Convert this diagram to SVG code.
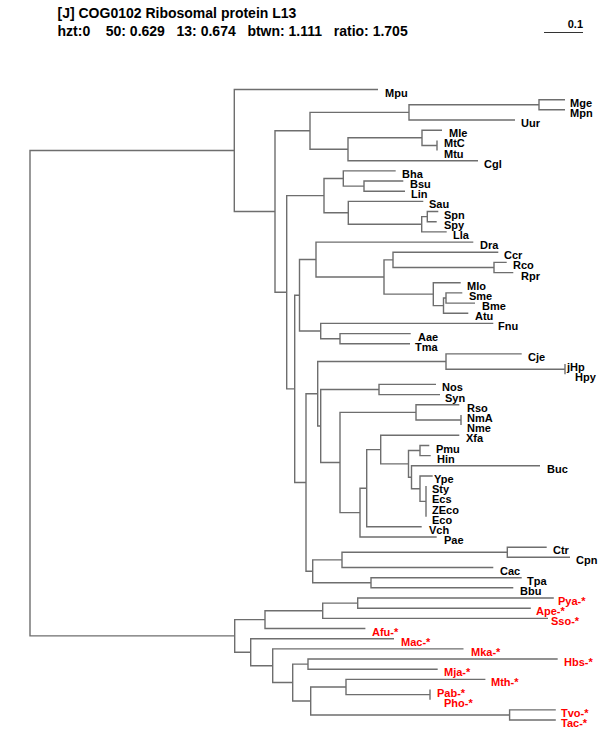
<svg xmlns="http://www.w3.org/2000/svg" width="600" height="750" viewBox="0 0 600 750">
<style>
.br{fill:none;stroke:#6e6e6e;stroke-width:1.4}
.t{font-family:"Liberation Sans",Arial,sans-serif;font-weight:bold;font-size:14px;fill:#000;white-space:pre}
.l{font-family:"Liberation Sans",Arial,sans-serif;font-weight:bold;font-size:11px;fill:#000}
.a{fill:#ff0000}
</style>
<rect width="600" height="750" fill="#fff"/>
<g id="header">
<text class="t" x="57.5" y="18">[J] COG0102 Ribosomal protein L13</text>
<text class="t" x="57.5" y="36" xml:space="preserve">hzt:0    50: 0.629   13: 0.674   btwn: 1.111   ratio: 1.705</text>
</g>
<g id="scale">
<line x1="544" y1="32.5" x2="583" y2="32.5" stroke="#333" stroke-width="1.2"/>
<text class="l" x="583" y="27.5" text-anchor="end">0.1</text>
</g>
<g id="connectors" class="br">
<path d="M234.3 150.5H30V635.9H234.7"/>
<path d="M378 89.5H234.3V211.55H275"/>
<path d="M310 130.8H275V292.3H286.7"/>
<path d="M409 112.4H310V149.25H348"/>
<path d="M539 104.75H409V120H515"/>
<path d="M565 99.7H539V109.8H565"/>
<path d="M478 160.7H348V137.8H422"/>
<path d="M442 130.2H422V145.45H437"/>
<path d="M437 140.4V150.5"/>
<path d="M324 195.65H286.7V388.9H294.7"/>
<path d="M343.3 178.5H324V212.8H348.3"/>
<path d="M395.7 170.9H343.3V186.1H364"/>
<path d="M403.3 181H364V191.2H405"/>
<path d="M423.3 201.4H348.3V224.25H421.7"/>
<path d="M427.3 216.6H421.7V231.9H446.7"/>
<path d="M438.3 211.5H427.3V221.7H436.7"/>
<path d="M299.5 295.3H294.7V482.55H306"/>
<path d="M316 259.55H299.5V331.05H320.7"/>
<path d="M473.3 242.1H316V277H384"/>
<path d="M393 259.85H384V294.15H433.3"/>
<path d="M498.3 252.2H393V267.5H494"/>
<path d="M506.7 262.4H494V272.6H513.3"/>
<path d="M460.7 282.7H433.3V305.6H443.5"/>
<path d="M446 298H443.5V313.2H468.3"/>
<path d="M462.3 292.9H446V303.1H475"/>
<path d="M493.3 323.4H320.7V338.7H340"/>
<path d="M410.7 333.6H340V343.8H410"/>
<path d="M317.7 393.8H306V571.3H312.7"/>
<path d="M446 361.55H317.7V426H320.7"/>
<path d="M521.7 353.9H446V369.2H565"/>
<path d="M565 364.1V374.3"/>
<path d="M379 389.5H320.7V462.5H340"/>
<path d="M436 384.4H379V394.6H440"/>
<path d="M416 412.4H340V512.6H360"/>
<path d="M459.3 404.8H416V420.05H461"/>
<path d="M461 415V425.1"/>
<path d="M366.7 488.2H360V537H436.7"/>
<path d="M380.7 449.6H366.7V526.8H421.7"/>
<path d="M459.3 435.3H380.7V463.9H408.5"/>
<path d="M420 450.55H408.5V477.25H411.5"/>
<path d="M429.3 445.5H420V455.6H430.7"/>
<path d="M540 465.8H411.5V488.7H420"/>
<path d="M432.7 476H420V501.4H426"/>
<path d="M426 486.1V516.7"/>
<path d="M342 559.9H312.7V582.75H371"/>
<path d="M507.3 552.25H342V567.5H493.3"/>
<path d="M546.7 547.2H507.3V557.3H570"/>
<path d="M521.7 577.7H371V587.8H513.3"/>
<path d="M265 619.6H234.7V652.2H250.7"/>
<path d="M322.7 610.75H265V628.5H365.4"/>
<path d="M357.7 603.1H322.7V618.4H548"/>
<path d="M553.8 598H357.7V608.2H530.8"/>
<path d="M394 638.7H250.7V665.7H272.7"/>
<path d="M463.5 648.9H272.7V682.5H292.7"/>
<path d="M308 664.1H292.7V700.95H310.7"/>
<path d="M557.7 659H308V669.2H437.7"/>
<path d="M346 687H310.7V714.95H509.6"/>
<path d="M485.4 679.4H346V694.6H430"/>
<path d="M430 689.5V699.7"/>
<path d="M555.8 709.9H509.6V720H555.8"/>
</g>
<g id="leaves" class="l">
<g id="n-Mpu"><text x="385" y="96.5">Mpu</text></g>
<g id="n-Mge"><text x="570" y="106.7">Mge</text></g>
<g id="n-Mpn"><text x="570" y="116.8">Mpn</text></g>
<g id="n-Uur"><text x="521" y="127">Uur</text></g>
<g id="n-Mle"><text x="449" y="137.2">Mle</text></g>
<g id="n-MtC"><text x="444" y="147.4">MtC</text></g>
<g id="n-Mtu"><text x="444" y="157.5">Mtu</text></g>
<g id="n-Cgl"><text x="484" y="167.7">Cgl</text></g>
<g id="n-Bha"><text x="402" y="177.9">Bha</text></g>
<g id="n-Bsu"><text x="410" y="188">Bsu</text></g>
<g id="n-Lin"><text x="411" y="198.2">Lin</text></g>
<g id="n-Sau"><text x="429" y="208.4">Sau</text></g>
<g id="n-Spn"><text x="444" y="218.5">Spn</text></g>
<g id="n-Spy"><text x="444" y="228.7">Spy</text></g>
<g id="n-Lla"><text x="453" y="238.9">Lla</text></g>
<g id="n-Dra"><text x="480" y="249.1">Dra</text></g>
<g id="n-Ccr"><text x="504" y="259.2">Ccr</text></g>
<g id="n-Rco"><text x="513" y="269.4">Rco</text></g>
<g id="n-Rpr"><text x="521" y="279.6">Rpr</text></g>
<g id="n-Mlo"><text x="467" y="289.7">Mlo</text></g>
<g id="n-Sme"><text x="469" y="299.9">Sme</text></g>
<g id="n-Bme"><text x="482" y="310.1">Bme</text></g>
<g id="n-Atu"><text x="475" y="320.2">Atu</text></g>
<g id="n-Fnu"><text x="498" y="330.4">Fnu</text></g>
<g id="n-Aae"><text x="418" y="340.6">Aae</text></g>
<g id="n-Tma"><text x="415" y="350.8">Tma</text></g>
<g id="n-Cje"><text x="528" y="360.9">Cje</text></g>
<g id="n-jHp"><text x="567" y="371.1">jHp</text></g>
<g id="n-Hpy"><text x="575" y="381.3">Hpy</text></g>
<g id="n-Nos"><text x="442" y="391.4">Nos</text></g>
<g id="n-Syn"><text x="445" y="401.6">Syn</text></g>
<g id="n-Rso"><text x="467" y="411.8">Rso</text></g>
<g id="n-NmA"><text x="467" y="422">NmA</text></g>
<g id="n-Nme"><text x="467" y="432.1">Nme</text></g>
<g id="n-Xfa"><text x="466" y="442.3">Xfa</text></g>
<g id="n-Pmu"><text x="436" y="452.5">Pmu</text></g>
<g id="n-Hin"><text x="437" y="462.6">Hin</text></g>
<g id="n-Buc"><text x="547" y="472.8">Buc</text></g>
<g id="n-Ype"><text x="434" y="483">Ype</text></g>
<g id="n-Sty"><text x="432" y="493.1">Sty</text></g>
<g id="n-Ecs"><text x="432" y="503.3">Ecs</text></g>
<g id="n-ZEco"><text x="432" y="513.5">ZEco</text></g>
<g id="n-Eco"><text x="432" y="523.7">Eco</text></g>
<g id="n-Vch"><text x="429" y="533.8">Vch</text></g>
<g id="n-Pae"><text x="444" y="544">Pae</text></g>
<g id="n-Ctr"><text x="553" y="554.2">Ctr</text></g>
<g id="n-Cpn"><text x="576" y="564.3">Cpn</text></g>
<g id="n-Cac"><text x="500" y="574.5">Cac</text></g>
<g id="n-Tpa"><text x="527" y="584.7">Tpa</text></g>
<g id="n-Bbu"><text x="520" y="594.8">Bbu</text></g>
<g id="n-Pya"><text class="a" x="558" y="605">Pya-*</text></g>
<g id="n-Ape"><text class="a" x="536" y="615.2">Ape-*</text></g>
<g id="n-Sso"><text class="a" x="551" y="625.4">Sso-*</text></g>
<g id="n-Afu"><text class="a" x="372" y="635.5">Afu-*</text></g>
<g id="n-Mac"><text class="a" x="401" y="645.7">Mac-*</text></g>
<g id="n-Mka"><text class="a" x="471" y="655.9">Mka-*</text></g>
<g id="n-Hbs"><text class="a" x="564" y="666">Hbs-*</text></g>
<g id="n-Mja"><text class="a" x="444" y="676.2">Mja-*</text></g>
<g id="n-Mth"><text class="a" x="491" y="686.4">Mth-*</text></g>
<g id="n-Pab"><text class="a" x="437" y="696.5">Pab-*</text></g>
<g id="n-Pho"><text class="a" x="444" y="706.7">Pho-*</text></g>
<g id="n-Tvo"><text class="a" x="561" y="716.9">Tvo-*</text></g>
<g id="n-Tac"><text class="a" x="561" y="727">Tac-*</text></g>
</g>
</svg>
